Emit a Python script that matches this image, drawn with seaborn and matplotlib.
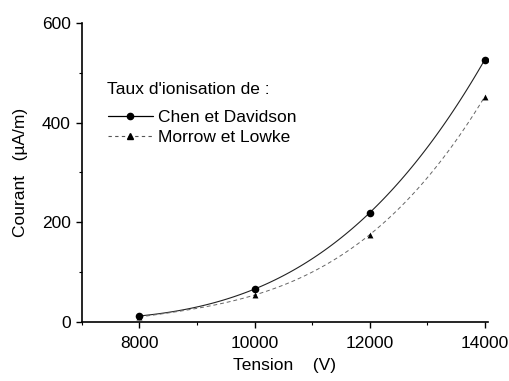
import matplotlib
matplotlib.use("Agg")
import matplotlib.pyplot as plt
from matplotlib.lines import Line2D
from matplotlib.ticker import MultipleLocator
import seaborn as sns
import pandas as pd

tension = [8000, 10000, 12000, 14000]
chen_davidson = [12, 66, 219, 526]
morrow_lowke = [10, 54, 175, 452]

sns.set_theme(style="ticks")
plt.rcParams["font.family"] = ["Liberation Sans", "DejaVu Sans"]
plt.rcParams["text.color"] = "black"
plt.rcParams["axes.labelcolor"] = "black"
plt.rcParams["xtick.color"] = "black"
plt.rcParams["ytick.color"] = "black"

df_cd = pd.DataFrame({"Tension": tension, "Courant": chen_davidson})
df_ml = pd.DataFrame({"Tension": tension, "Courant": morrow_lowke})

fig = plt.figure(figsize=(5.09, 3.81), dpi=100)
ax = fig.add_axes([0.161, 0.155, 0.797, 0.785])

# smooth fitted curves
sns.regplot(data=df_cd, x="Tension", y="Courant", order=3, ci=None, scatter=False,
            truncate=True, ax=ax, line_kws=dict(color="#222222", lw=0.8))
sns.regplot(data=df_ml, x="Tension", y="Courant", order=3, ci=None, scatter=False,
            truncate=True, ax=ax, line_kws=dict(color="#666666", lw=0.7, ls=(0, (4, 3))))
# measured points
sns.scatterplot(data=df_cd, x="Tension", y="Courant", marker="o", color="black",
                s=30, edgecolor="black", linewidth=0, ax=ax, zorder=5)
sns.scatterplot(data=df_ml, x="Tension", y="Courant", marker="^", color="black",
                s=18, edgecolor="black", linewidth=0, ax=ax, zorder=5)

ax.set_xlim(7000, 14050)
ax.set_ylim(0, 600)
ax.set_xticks([8000, 10000, 12000, 14000])
ax.set_yticks([0, 200, 400, 600])
ax.xaxis.set_minor_locator(MultipleLocator(1000))
ax.yaxis.set_minor_locator(MultipleLocator(100))
ax.tick_params(axis="both", which="major", length=4, width=1, labelsize=12.5,
               direction="out")
ax.tick_params(axis="x", which="major", pad=6)
ax.tick_params(axis="y", which="major", pad=4)
ax.tick_params(axis="both", which="minor", length=2.5, width=0.8, direction="out")
for s in ("top", "right"):
    ax.spines[s].set_visible(False)
for s in ("left", "bottom"):
    ax.spines[s].set_linewidth(1.2)
    ax.spines[s].set_color("black")

ax.set_xlabel("Tension    (V)", fontsize=12.5, labelpad=5)
ax.set_ylabel("Courant   (µA/m)", fontsize=12.5, labelpad=10)

ax.text(0.062, 0.776, "Taux d'ionisation de :", transform=ax.transAxes,
        fontsize=12.5, ha="left", va="center")
handles = [
    Line2D([], [], color="black", lw=0.9, marker="o", markersize=4.5),
    Line2D([], [], color="#555555", lw=0.8, ls=(0, (3, 3)), marker="^", markersize=4,
           markerfacecolor="black", markeredgecolor="black"),
]
leg = ax.legend(handles, ["Chen et Davidson", "Morrow et Lowke"],
                loc="upper left", bbox_to_anchor=(0.025, 0.762), frameon=False,
                fontsize=12.5, handlelength=2.6, handletextpad=0.3,
                labelspacing=0.3)

fig.savefig("out.png", dpi=100)
